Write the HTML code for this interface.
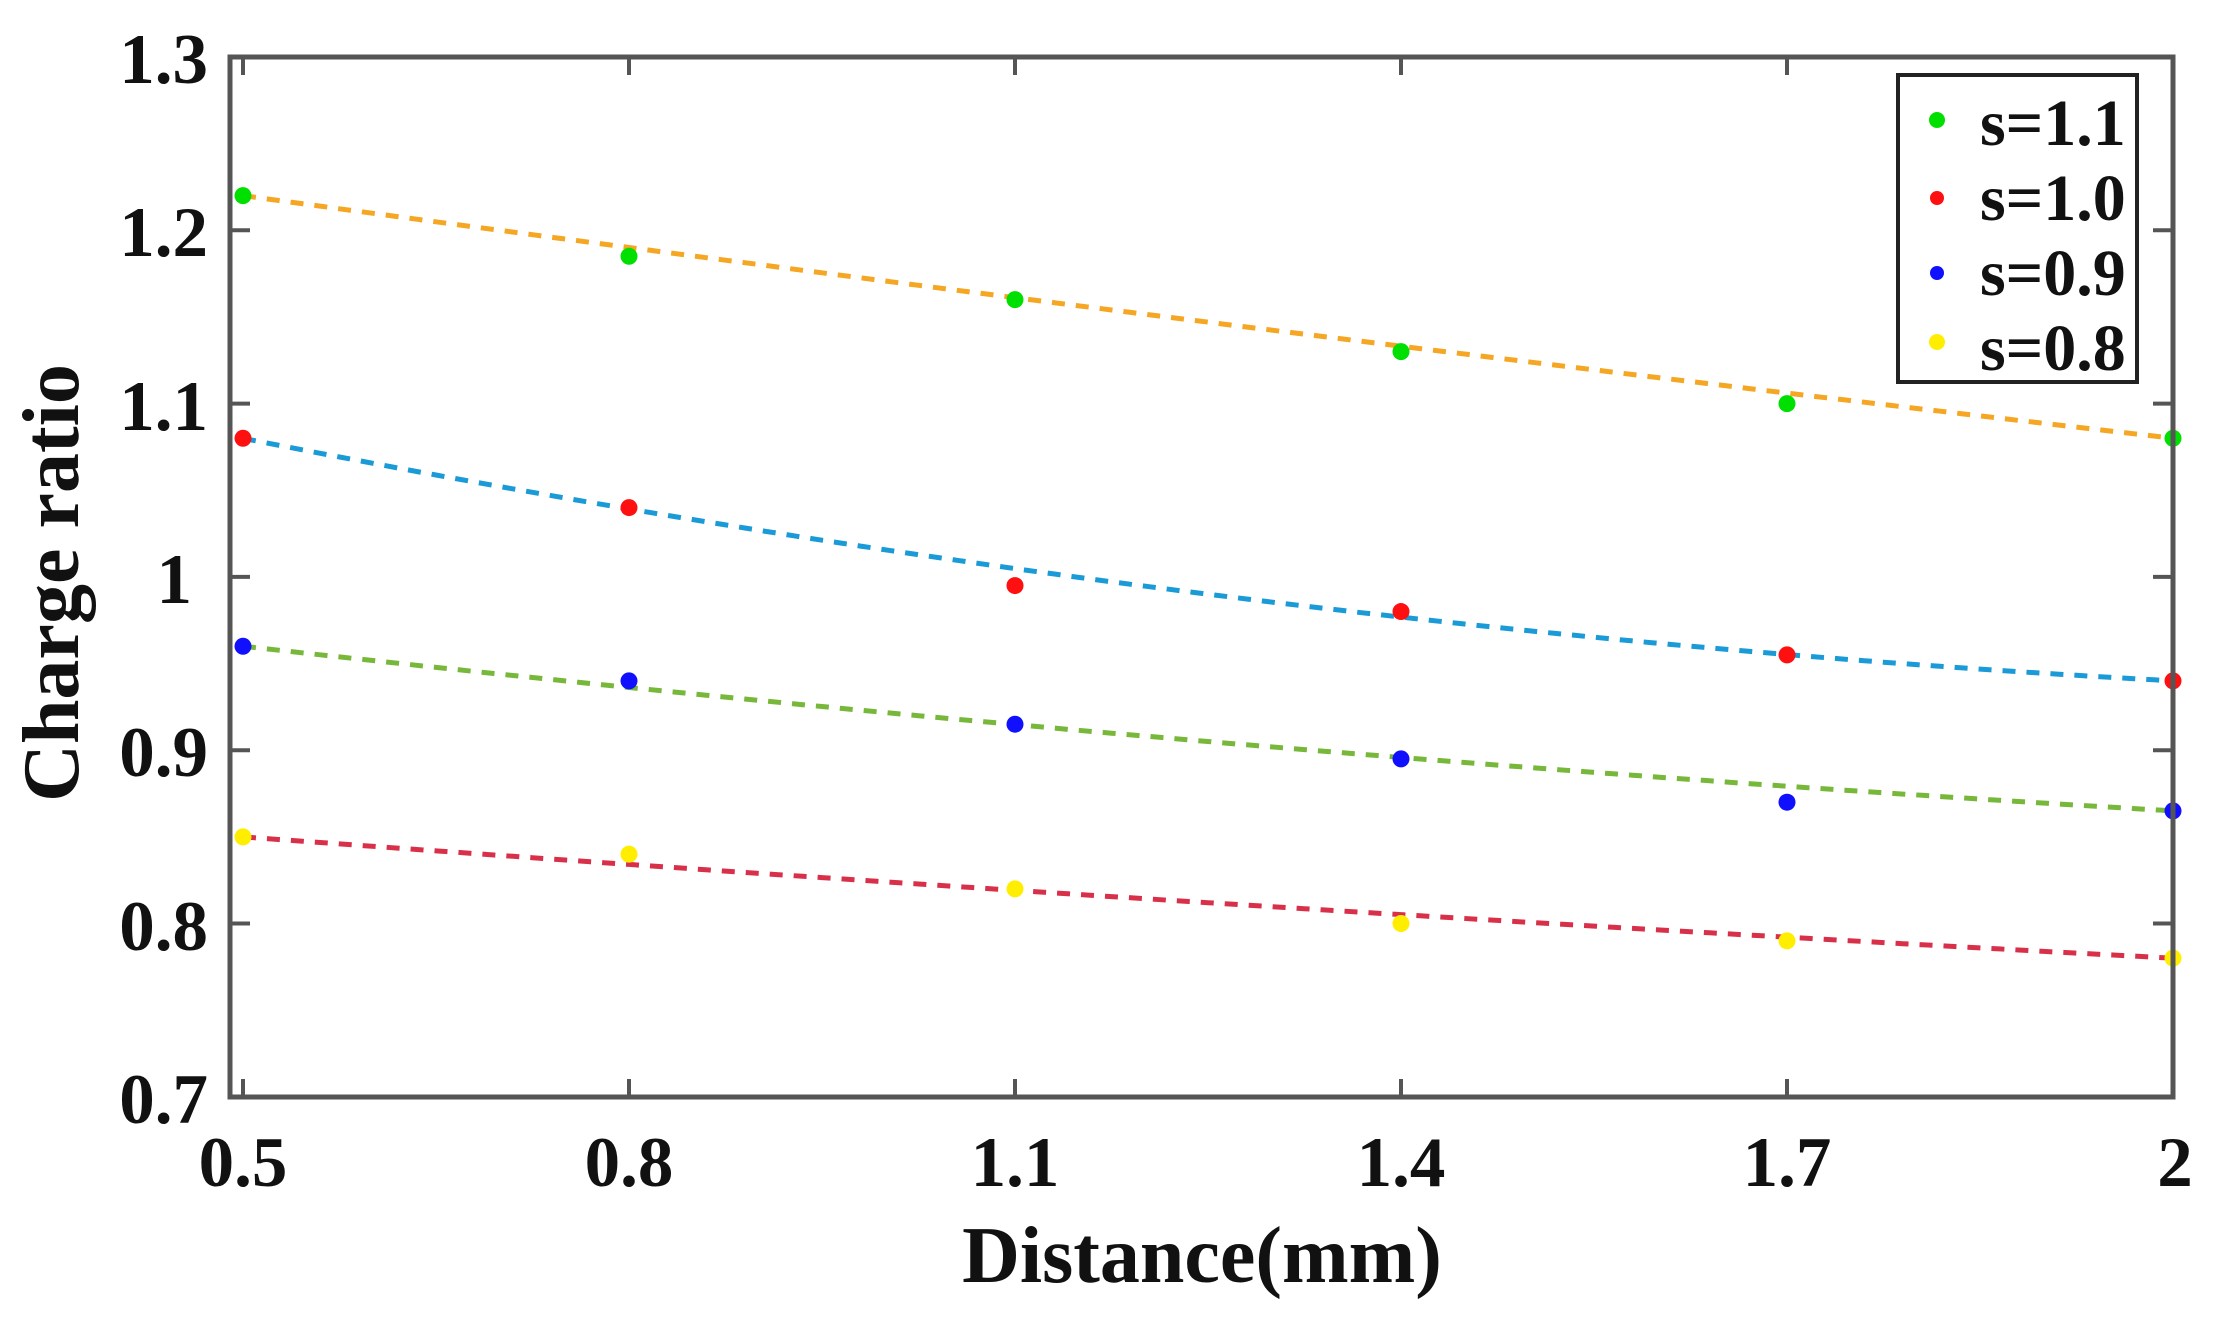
<!DOCTYPE html>
<html><head><meta charset="utf-8"><style>
html,body{margin:0;padding:0;background:#fff;}
svg text{font-family:"Liberation Serif",serif;font-weight:bold;fill:#111;}
</style></head><body>
<svg id="s" width="2219" height="1317" viewBox="0 0 2219 1317" xmlns="http://www.w3.org/2000/svg">
<rect width="2219" height="1317" fill="#fff"/>
<g id="g"></g>
<rect x="230" y="57" width="1943" height="1040" fill="none" stroke="#555" stroke-width="5"/>
<g font-size="71" text-anchor="end">
<text x="208" y="83">1.3</text>
<text x="208" y="256">1.2</text>
<text x="208" y="430">1.1</text>
<text x="192" y="603">1</text>
<text x="208" y="776">0.9</text>
<text x="208" y="950">0.8</text>
<text x="208" y="1123">0.7</text>
</g>
<g font-size="71" text-anchor="middle">
<text x="243" y="1186">0.5</text>
<text x="629" y="1186">0.8</text>
<text x="1015" y="1186">1.1</text>
<text x="1401" y="1186">1.4</text>
<text x="1787" y="1186">1.7</text>
<text x="2175" y="1186">2</text>
</g>
<text x="1202" y="1282" font-size="80" text-anchor="middle">Distance(mm)</text>
<text transform="translate(78,583) rotate(-90)" font-size="80" text-anchor="middle">Charge ratio</text>
<rect x="1898" y="75" width="239" height="307" fill="#fff" stroke="#222" stroke-width="4"/>
<g font-size="66">
<text x="1980" y="145">s=1.1</text>
<text x="1980" y="220">s=1.0</text>
<text x="1980" y="295">s=0.9</text>
<text x="1980" y="370">s=0.8</text>
</g>
<circle cx="1937" cy="120" r="8" fill="#00e000"/>
<circle cx="1937" cy="198" r="7" fill="#ff1010"/>
<circle cx="1937" cy="273" r="7" fill="#1010ff"/>
<circle cx="1937" cy="342" r="8" fill="#ffee00"/>
</svg>
<script>
var g=document.getElementById('g'),NS='http://www.w3.org/2000/svg';
function X(v){return 243+(v-0.5)*1930/1.5;}
function Y(v){return 57+(1.3-v)*1733;}
function el(t,a){var e=document.createElementNS(NS,t);for(var k in a)e.setAttribute(k,a[k]);g.appendChild(e);return e;}
var xs=[0.5,0.8,1.1,1.4,1.7,2];
xs.forEach(function(v){var x=X(v);el('line',{x1:x,y1:1097,x2:x,y2:1079,stroke:'#555','stroke-width':4});el('line',{x1:x,y1:57,x2:x,y2:75,stroke:'#555','stroke-width':4});});
[0.7,0.8,0.9,1,1.1,1.2,1.3].forEach(function(v){var y=Y(v);el('line',{x1:230,y1:y,x2:250,y2:y,stroke:'#555','stroke-width':4});el('line',{x1:2173,y1:y,x2:2153,y2:y,stroke:'#555','stroke-width':4});});
var series=[
 {c:'#f5a623',m:'#00e000',fit:[1.22,1.147,1.08],d:[1.22,1.185,1.16,1.13,1.10,1.08]},
 {c:'#1a9ad6',m:'#ff1010',fit:[1.08,0.99,0.94],d:[1.08,1.04,0.995,0.98,0.955,0.94]},
 {c:'#77b83a',m:'#1010ff',fit:[0.96,0.905,0.865],d:[0.96,0.94,0.915,0.895,0.87,0.865]},
 {c:'#d9304a',m:'#ffee00',fit:[0.85,0.812,0.78],d:[0.85,0.84,0.82,0.80,0.79,0.78]}
];
series.forEach(function(s){
 var a=s.fit[0],b=s.fit[1],c=s.fit[2];
 var pts=[];
 for(var i=0;i<=100;i++){var t=i/100;var v=a*(1-t)*(1-2*t)+b*4*t*(1-t)+c*t*(2*t-1);pts.push(X(0.5+1.5*t).toFixed(1)+','+Y(v).toFixed(1));}
 el('polyline',{points:pts.join(' '),fill:'none',stroke:s.c,'stroke-width':5,'stroke-dasharray':'13 11'});
});
series.forEach(function(s){s.d.forEach(function(v,i){el('circle',{cx:X(xs[i]),cy:Y(v),r:8.5,fill:s.m});});});
</script>
</body></html>
